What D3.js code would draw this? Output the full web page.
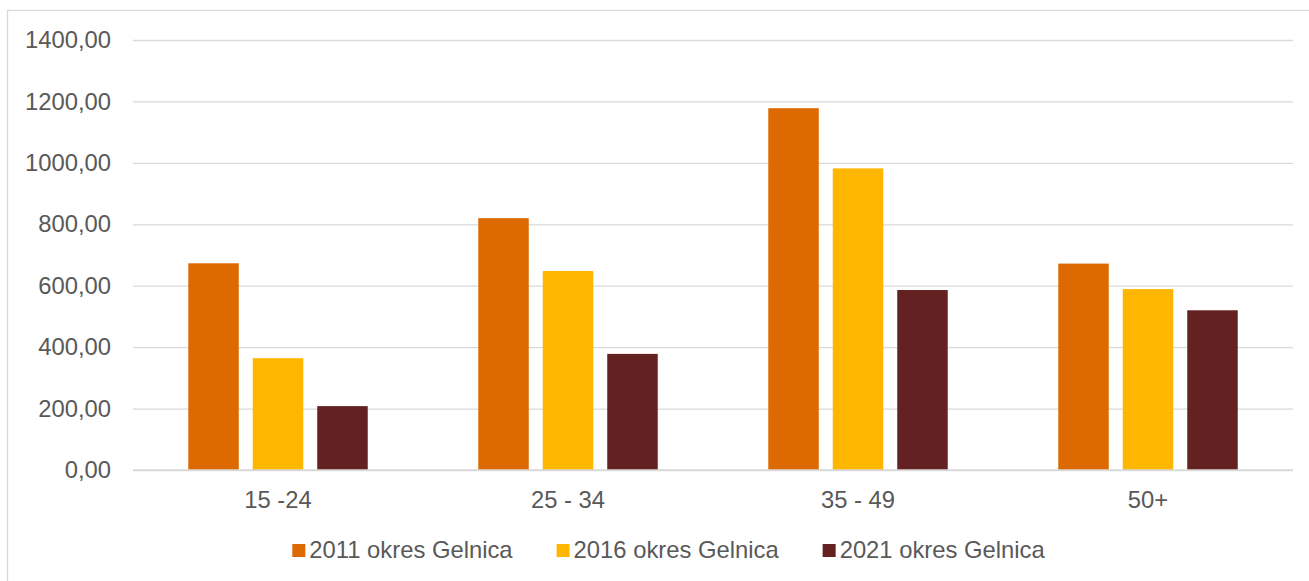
<!DOCTYPE html>
<html>
<head>
<meta charset="utf-8">
<script src="https://cdn.jsdelivr.net/npm/d3@7"></script>
<style>
    html, body { margin: 0; padding: 0; background: #fff; }
    svg { display: block; font-family: "Liberation Sans", Arial, sans-serif; }
</style>
</head>
<body>
<svg id="chart" width="1309" height="581"></svg>
<script>
    'use strict';

    // data
    const categories = ['15 -24', '25 - 34', '35 - 49', '50+'];
    const seriesNames = ['2011 okres Gelnica', '2016 okres Gelnica', '2021 okres Gelnica'];
    const values2011 = [673, 820, 1178, 672];
    const values2016 = [364, 648, 982, 589];
    const values2021 = [208, 378, 586, 520];
    const seriesColors = ['#DD6A00', '#FFB600', '#632221'];
    const yTicks = [0, 200, 400, 600, 800, 1000, 1200, 1400];

    const allValues = [values2011, values2016, values2021];
    const rows = categories.map((cat, i) => ({
        cat: cat,
        bars: seriesNames.map((name, s) => ({ name: name, value: allValues[s][i], color: seriesColors[s] }))
    }));

    const LAYOUT = {
        LEFT: 133, RIGHT: 1293, TOP: 40, BOTTOM: 470,
        FONT: 23.8, TEXT: '#595959', GRID: '#D9D9D9'
    };

    const svg = d3.select('#chart');

    // chart area frame, runs off the right and bottom edge like the original
    svg.append('rect')
        .attr('x', 7.5).attr('y', 10.5)
        .attr('width', 1340).attr('height', 600)
        .attr('fill', '#fff')
        .attr('stroke', LAYOUT.GRID)
        .attr('stroke-width', 1.3);

    const y = d3.scaleLinear().domain([0, 1400]).range([LAYOUT.BOTTOM, LAYOUT.TOP]);
    const x0 = d3.scaleBand().domain(categories).range([LAYOUT.LEFT, LAYOUT.RIGHT]);
    const x1 = d3.scaleBand().domain(seriesNames).range([0, x0.bandwidth()])
        .paddingInner(0.217).paddingOuter(0.857);

    const locale = d3.formatLocale({ decimal: ',', thousands: '', grouping: [3], currency: ['', ''] });
    const fmt = locale.format('.2f');

    // gridlines + y labels
    const yAxis = d3.axisLeft(y).tickValues(yTicks).tickFormat(fmt)
        .tickSize(-(LAYOUT.RIGHT - LAYOUT.LEFT)).tickPadding(22);
    const yG = svg.append('g')
        .attr('transform', `translate(${LAYOUT.LEFT},0)`)
        .call(yAxis);
    yG.select('.domain').remove();
    yG.selectAll('.tick line').attr('stroke', LAYOUT.GRID).attr('stroke-width', 1.3);
    yG.selectAll('.tick text')
        .attr('fill', LAYOUT.TEXT)
        .attr('font-size', LAYOUT.FONT)
        .attr('font-family', '"Liberation Sans", Arial, sans-serif');

    // bars
    const groups = svg.append('g').selectAll('g')
        .data(rows)
        .enter()
        .append('g')
        .attr('transform', d => `translate(${x0(d.cat)},0)`);

    groups.selectAll('rect')
        .data(d => d.bars)
        .enter()
        .append('rect')
        .attr('x', d => x1(d.name))
        .attr('y', d => y(d.value))
        .attr('width', x1.bandwidth())
        .attr('height', d => y(0) - y(d.value))
        .attr('fill', d => d.color);

    // x labels
    const xAxis = d3.axisBottom(x0).tickSize(0).tickPadding(38);
    const xG = svg.append('g')
        .attr('transform', `translate(0,${LAYOUT.BOTTOM})`)
        .call(xAxis);
    xG.select('.domain').remove();
    xG.selectAll('.tick text')
        .attr('fill', LAYOUT.TEXT)
        .attr('font-size', LAYOUT.FONT)
        .attr('font-family', '"Liberation Sans", Arial, sans-serif')
        .attr('dy', '0');

    // zero line on top of bars bottom edge
    svg.append('line')
        .attr('x1', LAYOUT.LEFT).attr('x2', LAYOUT.RIGHT)
        .attr('y1', y(0)).attr('y2', y(0))
        .attr('stroke', LAYOUT.GRID).attr('stroke-width', 1.3);

    // legend, centred on the chart area
    const legend = svg.append('g');
    const items = legend.selectAll('g')
        .data(seriesNames.map((name, i) => ({ name: name, color: seriesColors[i] })))
        .enter()
        .append('g');
    items.append('rect')
        .attr('width', 13).attr('height', 13)
        .attr('y', 544)
        .attr('fill', d => d.color);
    items.append('text')
        .attr('x', 17).attr('y', 558)
        .attr('fill', LAYOUT.TEXT)
        .attr('font-size', LAYOUT.FONT)
        .text(d => d.name);

    let offset = 0;
    const positions = [];
    items.each(function () {
        const w = d3.select(this).select('text').node().getComputedTextLength();
        positions.push(offset);
        offset += 17 + w + 44;
    });
    const legendWidth = offset - 44;
    const legendStart = 668.5 - legendWidth / 2;
    items.attr('transform', (d, i) => `translate(${legendStart + positions[i]},0)`);
</script>
</body>
</html>
